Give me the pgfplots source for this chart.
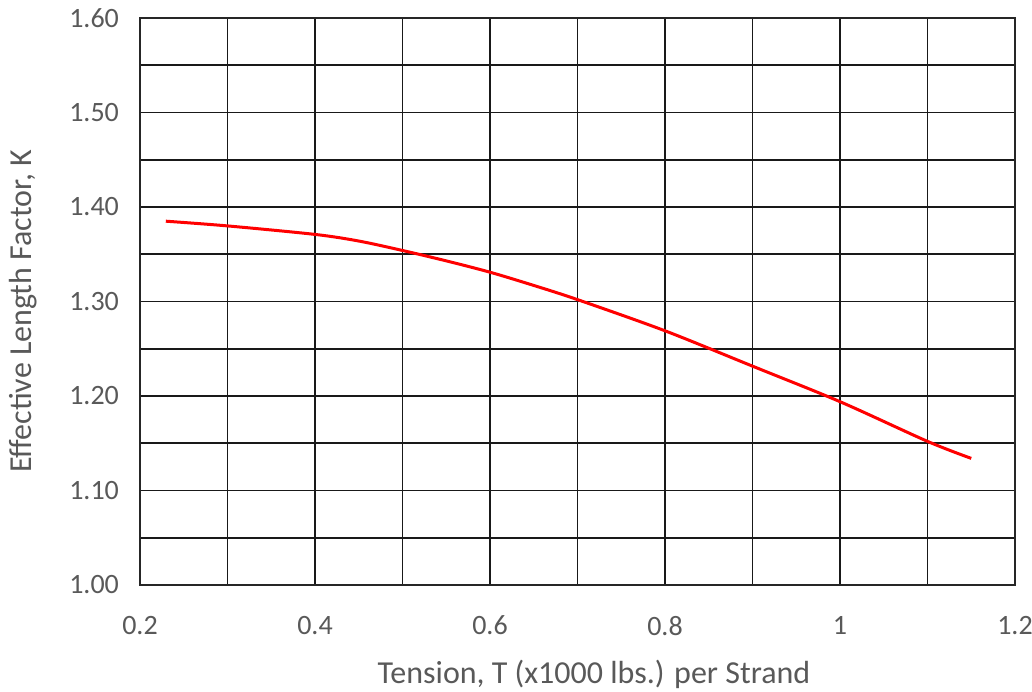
\documentclass[border=0pt]{standalone}
\usepackage{fontspec}
\setmainfont{Carlito}
\usepackage{pgfplots}
\pgfplotsset{compat=1.18}
\definecolor{tickgray}{HTML}{595959}
\begin{document}
\begin{tikzpicture}
\begin{axis}[
  at={(0,0)}, anchor=origin,
  scale only axis,
  width=437.5pt, height=283.5pt,
  xmin=0.2, xmax=1.2, ymin=1.0, ymax=1.6,
  xtick={0.2,0.4,0.6,0.8,1.0,1.2},
  xticklabels={0.2,0.4,0.6,0.8,1,1.2},
  ytick={1.0,1.1,1.2,1.3,1.4,1.5,1.6},
  yticklabels={1.00,1.10,1.20,1.30,1.40,1.50,1.60},
  minor x tick num=1, minor y tick num=1,
  xmajorgrids, xminorgrids, ymajorgrids, yminorgrids,
  grid style={black!90, line width=0.8pt},
  minor grid style={black!90, line width=0.8pt},
  major tick length=0pt, minor tick length=0pt,
  axis line style={black!85, line width=1.4pt},
  tick label style={font=\fontsize{14}{16}\selectfont, text=tickgray},
  /pgf/number format/assume math mode=true,
  xticklabel style={yshift=-12pt},
  yticklabel style={xshift=-7pt},
  clip=false,
]
\addplot[red, line width=1.5pt, smooth, tension=0.5] coordinates {
(0.2295,1.385)
(0.3,1.380)
(0.4,1.371)
(0.45,1.364)
(0.5,1.354)
(0.55,1.343)
(0.6,1.331)
(0.65,1.317)
(0.7,1.302)
(0.8,1.269)
(0.9,1.2316)
(1.0,1.194)
(1.1,1.152)
(1.150,1.134)
};
\end{axis}
\node[rotate=90, text=tickgray, font=\fontsize{16}{18}\selectfont] at (-58.5pt,136.75pt) {Effective Length Factor, K};
\node[text=tickgray, font=\fontsize{16}{18}\selectfont] at (227pt,-44.5pt) {Tension, T (x1000 lbs.) per Strand};
\pgfresetboundingbox
\path[use as bounding box] (-70pt,-53pt) rectangle (446pt,292.5pt);
\end{tikzpicture}
\end{document}
